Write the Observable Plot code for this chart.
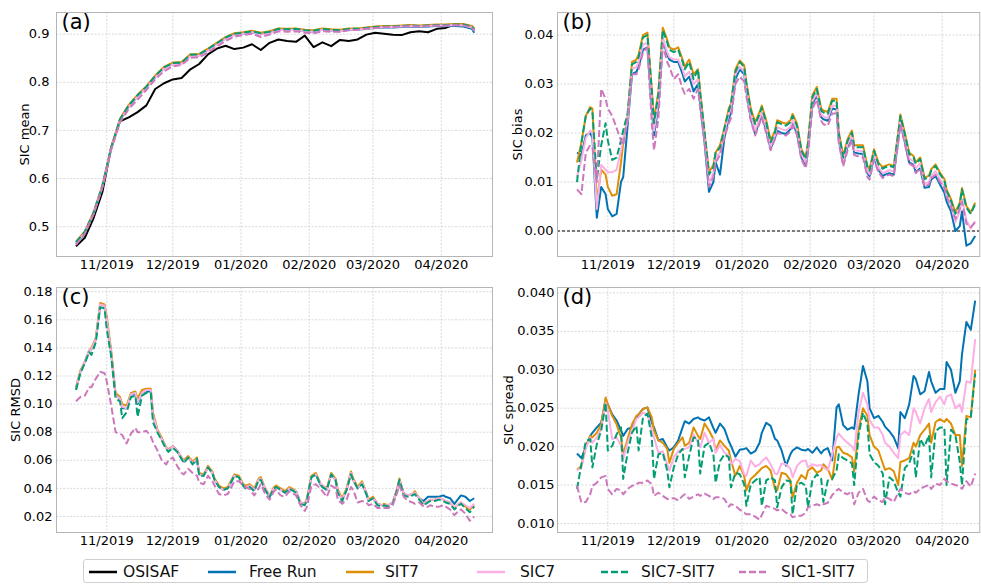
<!DOCTYPE html>
<html><head><meta charset="utf-8">
<script src="https://cdn.jsdelivr.net/npm/d3@7"></script>
<script src="https://cdn.jsdelivr.net/npm/@observablehq/plot@0.6"></script>
<style>
body{margin:0;background:#fff;font-family:"DejaVu Sans",sans-serif;}
#wrap{position:relative;width:981px;height:585px;overflow:hidden;background:#fff;}
#legend{position:absolute;left:83px;top:559px;width:785px;height:24px;border:1px solid #d0d0d0;border-radius:3px;box-sizing:border-box;}
.li{position:absolute;top:0;height:24px;display:flex;align-items:center;font-size:15.5px;color:#111;white-space:nowrap;}
</style></head>
<body><div id="wrap"><div id="legend"></div></div>
<script>
// ---- shared axis info ----
const startDate = "2019-10-18";           // day 0 of every series
const monthTicks = ["2019-11-01","2019-12-01","2020-01-01","2020-02-01","2020-03-01","2020-04-01"];
const monthLabels = ["11/2019","12/2019","01/2020","02/2020","03/2020","04/2020"];
const seriesNames = ["OSISAF","Free Run","SIT7","SIC7","SIC7-SIT7","SIC1-SIT7"];

// ---- panel (a): SIC mean, days since start ----
const tA = [0,4,8,12,16,20,24,28,32,36,40,44,48,52,56,60,64,68,72,76,80,84,88,92,96,100,104,108,112,116,120,124,128,132,136,140,144,148,152,156,160,164,168,172,176,180,181];
const aOSISAF   = [.459,.477,.518,.572,.665,.719,.727,.738,.752,.786,.798,.806,.809,.827,.838,.858,.870,.876,.869,.872,.879,.867,.882,.889,.886,.884,.897,.873,.883,.875,.888,.886,.889,.899,.903,.901,.899,.898,.904,.906,.904,.911,.913,.920,.918,.916,.911];
const aFreeRun  = [.464,.486,.527,.583,.662,.721,.750,.771,.789,.811,.829,.838,.839,.855,.856,.867,.879,.891,.899,.901,.904,.900,.903,.909,.908,.909,.906,.905,.909,.907,.906,.909,.909,.911,.913,.914,.914,.915,.916,.915,.916,.917,.917,.917,.916,.911,.903];
const aSIT7     = [.469,.490,.530,.586,.665,.724,.753,.774,.792,.814,.832,.841,.842,.858,.859,.870,.882,.894,.902,.904,.907,.903,.906,.912,.911,.912,.909,.908,.912,.910,.909,.912,.912,.914,.916,.917,.917,.918,.919,.918,.919,.920,.920,.921,.921,.917,.910];
const aSIC7     = [.465,.487,.527,.583,.662,.720,.749,.770,.788,.810,.828,.837,.838,.854,.855,.866,.878,.890,.898,.901,.904,.899,.902,.909,.908,.909,.906,.905,.909,.907,.906,.909,.909,.911,.913,.915,.915,.916,.917,.916,.917,.918,.918,.919,.918,.914,.907];
const aSIC7SIT7 = [.468,.489,.529,.585,.664,.723,.752,.773,.791,.813,.831,.840,.841,.857,.858,.869,.881,.893,.901,.903,.906,.902,.905,.911,.910,.911,.908,.907,.911,.909,.908,.911,.911,.913,.915,.916,.916,.917,.918,.917,.918,.919,.919,.920,.920,.916,.909];
const aSIC1SIT7 = [.462,.485,.526,.582,.660,.717,.745,.764,.784,.806,.823,.833,.836,.851,.852,.862,.874,.886,.895,.898,.901,.894,.899,.906,.905,.906,.903,.902,.906,.905,.905,.908,.909,.911,.913,.915,.915,.916,.917,.916,.917,.918,.918,.919,.918,.914,.907];

// ---- panels (b)-(d): days since start ----
const tW = [0,2,4,6,7,9,11,13,14,16,18,20,21,23,25,27,28,30,32,34,35,37,39,41,42,44,46,48,49,51,53,55,56,58,60,62,63,65,67,69,70,72,74,76,77,79,81,83,84,86,88,90,91,93,95,97,98,100,102,104,105,107,109,111,112,114,116,118,119,121,123,125,126,128,130,132,133,135,137,139,140,142,144,146,147,149,151,153,154,156,158,160,161,163,165,167,168,170,172,174,175,177,179,181];

// (b) SIC bias
const bFreeRun  = [.0160,.0155,.0195,.0200, .0190,.0027,.0090,.0075, .0045,.0030,.0035,.0100, .0110,.0215,.0320,.0325, .0335,.0370,.0375,.0250, .0195,.0255,.0390,.0360, .0350,.0345,.0345,.0320, .0305,.0315,.0285,.0300, .0260,.0180,.0080,.0100, .0140,.0115,.0190,.0230, .0240,.0310,.0330,.0320, .0285,.0230,.0198,.0225, .0235,.0205,.0168,.0190, .0205,.0200,.0198,.0208, .0220,.0200,.0150,.0135, .0165,.0258,.0278,.0232, .0228,.0225,.0250,.0248, .0185,.0138,.0172,.0190, .0160,.0158,.0157,.0118, .0112,.0150,.0125,.0112, .0115,.0118,.0115,.0185, .0222,.0182,.0140,.0135, .0120,.0128,.0088,.0090, .0105,.0112,.0095,.0078, .0060,.0040,.0000,.0010, .0040,-.0030,-.0025,-.0010];
const bSIT7     = [.0140,.0180,.0235,.0253, .0250,.0060,.0125,.0115, .0090,.0072,.0075,.0140, .0180,.0235,.0345,.0350, .0360,.0400,.0405,.0290, .0225,.0285,.0415,.0390, .0375,.0370,.0375,.0350, .0335,.0350,.0320,.0330, .0285,.0200,.0120,.0135, .0160,.0175,.0210,.0250, .0260,.0330,.0348,.0338, .0303,.0250,.0222,.0243, .0256,.0226,.0185,.0205, .0226,.0222,.0219,.0226, .0239,.0219,.0167,.0150, .0182,.0277,.0294,.0250, .0246,.0243,.0270,.0270, .0202,.0153,.0188,.0205, .0175,.0175,.0175,.0133, .0126,.0167,.0140,.0130, .0133,.0136,.0133,.0201, .0238,.0201,.0160,.0153, .0140,.0150,.0109,.0113, .0126,.0136,.0119,.0106, .0085,.0065,.0038,.0058, .0088,.0051,.0038,.0058];
const bSIC7     = [.0110,.0145,.0190,.0205, .0200,.0045,.0135,.0125, .0120,.0120,.0125,.0165, .0190,.0225,.0330,.0335, .0345,.0380,.0385,.0265, .0205,.0265,.0395,.0365, .0355,.0350,.0350,.0330, .0315,.0325,.0300,.0310, .0270,.0190,.0095,.0120, .0150,.0160,.0200,.0240, .0250,.0320,.0335,.0325, .0290,.0235,.0205,.0230, .0242,.0212,.0172,.0195, .0212,.0208,.0205,.0213, .0226,.0206,.0156,.0140, .0170,.0264,.0282,.0238, .0234,.0230,.0256,.0255, .0190,.0143,.0177,.0195, .0165,.0164,.0163,.0123, .0116,.0156,.0130,.0118, .0120,.0124,.0122,.0190, .0228,.0188,.0148,.0142, .0128,.0138,.0096,.0100, .0113,.0122,.0105,.0090, .0072,.0052,.0018,.0040, .0065,.0022,.0005,.0020];
const bSIC7SIT7 = [.0100,.0180,.0235,.0250, .0245,.0105,.0175,.0220, .0185,.0145,.0150,.0185, .0205,.0240,.0340,.0345, .0355,.0395,.0400,.0285, .0220,.0280,.0410,.0385, .0370,.0365,.0370,.0345, .0330,.0345,.0310,.0330, .0280,.0200,.0115,.0130, .0160,.0170,.0210,.0245, .0260,.0325,.0345,.0335, .0300,.0246,.0218,.0239, .0252,.0222,.0181,.0201, .0222,.0218,.0215,.0222, .0235,.0215,.0164,.0147, .0178,.0273,.0290,.0246, .0242,.0239,.0266,.0266, .0198,.0150,.0184,.0201, .0171,.0171,.0171,.0130, .0123,.0164,.0137,.0127, .0130,.0133,.0130,.0198, .0235,.0198,.0157,.0150, .0137,.0147,.0106,.0110, .0123,.0133,.0116,.0103, .0082,.0062,.0035,.0055, .0085,.0048,.0035,.0055];
const bSIC1SIT7 = [.0085,.0075,.0160,.0175, .0170,.0100,.0290,.0270, .0250,.0235,.0210,.0185, .0175,.0230,.0320,.0320, .0330,.0365,.0375,.0220, .0165,.0230,.0380,.0345, .0335,.0310,.0320,.0290, .0280,.0290,.0270,.0290, .0250,.0180,.0090,.0110, .0140,.0155,.0190,.0220, .0230,.0300,.0315,.0305, .0275,.0225,.0195,.0220, .0232,.0200,.0165,.0188, .0200,.0198,.0195,.0203, .0215,.0196,.0146,.0128, .0160,.0250,.0268,.0225, .0218,.0215,.0240,.0240, .0180,.0132,.0165,.0185, .0155,.0152,.0150,.0110, .0105,.0145,.0120,.0108, .0112,.0115,.0112,.0180, .0218,.0178,.0138,.0132, .0118,.0128,.0090,.0095, .0108,.0115,.0100,.0088, .0070,.0050,.0025,.0045, .0060,.0015,.0008,.0018];

// (c) SIC RMSD
const cFreeRun  = [.111,.123,.130,.138, .139,.146,.171,.170, .160,.136,.106,.104, .097,.097,.107,.107, .100,.108,.109,.109, .092,.081,.075,.069, .067,.070,.067,.061, .059,.062,.058,.060, .050,.049,.055,.051, .046,.041,.039,.040, .043,.049,.048,.042, .041,.042,.039,.046, .047,.039,.034,.040, .041,.039,.037,.040, .039,.038,.030,.029, .032,.048,.050,.043, .041,.039,.050,.046, .038,.032,.039,.051, .046,.040,.044,.036, .031,.033,.029,.028, .028,.028,.030,.039, .046,.036,.035,.036, .037,.033,.031,.034, .034,.034,.034,.035, .034,.033,.029,.033, .035,.034,.031,.033];
const cSIT7     = [.112,.124,.130,.138, .140,.147,.172,.171, .162,.138,.108,.105, .100,.099,.108,.109, .104,.110,.111,.111, .094,.082,.076,.069, .068,.070,.067,.062, .060,.063,.059,.062, .051,.050,.056,.052, .047,.042,.040,.041, .044,.050,.049,.043, .042,.043,.040,.047, .048,.040,.035,.041, .042,.040,.038,.041, .040,.038,.030,.029, .033,.049,.051,.044, .042,.040,.051,.047, .039,.033,.040,.052, .047,.041,.045,.037, .032,.034,.029,.028, .029,.028,.030,.040, .047,.036,.035,.036, .038,.033,.029,.031, .032,.032,.033,.032, .031,.030,.026,.029, .030,.027,.025,.028];
const cSIC7     = [.111,.123,.130,.138, .139,.146,.171,.170, .160,.136,.106,.104, .098,.097,.107,.108, .101,.108,.110,.110, .092,.081,.075,.069, .067,.070,.067,.062, .059,.062,.058,.061, .050,.049,.055,.051, .046,.041,.039,.040, .043,.049,.048,.042, .041,.042,.039,.046, .047,.040,.035,.040, .041,.039,.037,.040, .039,.038,.030,.029, .032,.048,.050,.044, .042,.039,.050,.046, .038,.032,.039,.051, .046,.040,.044,.037, .031,.033,.029,.028, .028,.028,.030,.039, .046,.036,.035,.036, .037,.033,.029,.031, .032,.032,.033,.032, .031,.030,.026,.029, .030,.028,.026,.029];
const cSIC7SIT7 = [.110,.122,.129,.137, .135,.144,.169,.168, .153,.134,.104,.102, .090,.094,.105,.106, .091,.106,.108,.108, .087,.080,.074,.068, .066,.069,.066,.061, .058,.062,.057,.061, .049,.049,.055,.051, .046,.041,.039,.040, .043,.049,.048,.042, .040,.041,.038,.046, .046,.039,.034,.040, .041,.039,.037,.040, .039,.037,.029,.028, .032,.048,.050,.043, .041,.039,.050,.046, .037,.031,.039,.050, .046,.040,.043,.036, .031,.033,.028,.027, .028,.027,.029,.039, .046,.035,.034,.035, .036,.032,.028,.030, .031,.031,.032,.031, .030,.029,.025,.028, .029,.026,.023,.027];
const cSIC1SIT7 = [.102,.105,.106,.112, .112,.118,.123,.122, .116,.099,.080,.079, .078,.072,.079,.083, .080,.080,.081,.077, .073,.067,.060,.057, .060,.062,.056,.051, .050,.054,.051,.049, .044,.043,.049,.045, .042,.036,.035,.036, .039,.045,.045,.042, .041,.0395,.035,.040, .043,.036,.032,.038, .039,.035,.034,.038, .037,.035,.028,.024, .027,.042,.043,.040, .038,.034,.042,.040, .032,.029,.032,.041, .039,.030,.031,.030, .028,.029,.026,.026, .026,.026,.028,.037, .042,.034,.031,.030, .029,.030,.027,.027, .028,.027,.027,.028, .027,.025,.021,.024, .025,.022,.017,.020];

// (d) SIC spread
const dFreeRun  = [.0191,.0185,.0199,.0214, .0218,.0225,.0231,.0260, .0255,.0242,.0234,.0221, .0214,.0223,.0225,.0238, .0242,.0249,.0251,.0231, .0225,.0208,.0210,.0199, .0195,.0199,.0208,.0225, .0233,.0230,.0236,.0238, .0236,.0234,.0238,.0224, .0218,.0230,.0223,.0207, .0201,.0187,.0196,.0197, .0198,.0191,.0194,.0205, .0218,.0231,.0227,.0210, .0208,.0195,.0175,.0190, .0195,.0199,.0196,.0195, .0197,.0192,.0199,.0191, .0195,.0198,.0182,.0251, .0255,.0228,.0222,.0225, .0223,.0268,.0305,.0285, .0250,.0237,.0240,.0232, .0226,.0220,.0212,.0198, .0245,.0237,.0255,.0292, .0288,.0268,.0272,.0297, .0285,.0270,.0275,.0275, .0310,.0300,.0270,.0285, .0320,.0362,.0352,.0390];
const dSIT7     = [.0170,.0175,.0201,.0214, .0212,.0218,.0229,.0264, .0255,.0240,.0229,.0212, .0190,.0210,.0229,.0240, .0242,.0249,.0251,.0238, .0221,.0208,.0205,.0197, .0179,.0197,.0205,.0212, .0201,.0205,.0225,.0214, .0210,.0230,.0221,.0210, .0195,.0208,.0201,.0195, .0182,.0162,.0175,.0162, .0143,.0158,.0163,.0169, .0172,.0175,.0169,.0145, .0143,.0166,.0164,.0156, .0134,.0153,.0163,.0158, .0169,.0173,.0166,.0169, .0177,.0171,.0157,.0199, .0200,.0192,.0190,.0186, .0168,.0222,.0250,.0240, .0215,.0200,.0195,.0178, .0170,.0172,.0168,.0150, .0180,.0182,.0185,.0205, .0200,.0215,.0222,.0230, .0205,.0232,.0236,.0232, .0236,.0230,.0215,.0215, .0175,.0240,.0238,.0300];
const dSIC7     = [.0169,.0173,.0198,.0212, .0205,.0212,.0223,.0257, .0247,.0210,.0212,.0201, .0184,.0205,.0221,.0236, .0238,.0244,.0242,.0221, .0212,.0192,.0194,.0177, .0169,.0186,.0194,.0197, .0197,.0199,.0216,.0205, .0199,.0218,.0205,.0210, .0192,.0202,.0192,.0188, .0177,.0184,.0181,.0164, .0162,.0182,.0174,.0177, .0181,.0186,.0177,.0165, .0164,.0178,.0177,.0171, .0160,.0175,.0181,.0182, .0173,.0177,.0175,.0176, .0173,.0169,.0190,.0212, .0217,.0210,.0205,.0200, .0195,.0245,.0270,.0255, .0235,.0225,.0225,.0215, .0205,.0200,.0192,.0185, .0215,.0220,.0215,.0250, .0245,.0230,.0250,.0262, .0245,.0258,.0265,.0255, .0265,.0268,.0250,.0255, .0245,.0285,.0283,.0340];
const dSIC7SIT7 = [.0145,.0177,.0207,.0210, .0173,.0203,.0221,.0257, .0195,.0201,.0216,.0225, .0158,.0192,.0218,.0227, .0195,.0238,.0243,.0212, .0158,.0190,.0192,.0169, .0147,.0173,.0190,.0197, .0160,.0188,.0212,.0210, .0165,.0201,.0205,.0190, .0153,.0181,.0190,.0186, .0147,.0166,.0164,.0151, .0123,.0151,.0156,.0160, .0123,.0156,.0160,.0156, .0121,.0147,.0156,.0155, .0112,.0151,.0153,.0149, .0121,.0156,.0164,.0158, .0128,.0156,.0158,.0169, .0190,.0185,.0182,.0178, .0150,.0215,.0244,.0230, .0190,.0180,.0175,.0165, .0125,.0160,.0155,.0140, .0135,.0172,.0178,.0195, .0160,.0210,.0200,.0215, .0160,.0220,.0225,.0225, .0150,.0222,.0215,.0180, .0150,.0235,.0238,.0295];
const dSIC1SIT7 = [.0149,.0127,.0128,.0138, .0149,.0153,.0160,.0162, .0145,.0138,.0145,.0143, .0138,.0145,.0149,.0151, .0153,.0153,.0156,.0151, .0136,.0140,.0136,.0132, .0132,.0133,.0130,.0136, .0138,.0132,.0135,.0138, .0136,.0139,.0136,.0132, .0134,.0134,.0132,.0122, .0125,.0123,.0118,.0114, .0112,.0112,.0109,.0105, .0111,.0123,.0121,.0119, .0117,.0119,.0114,.0112, .0108,.0110,.0110,.0114, .0121,.0123,.0125,.0123, .0125,.0127,.0137,.0143, .0145,.0140,.0138,.0142, .0125,.0140,.0145,.0130, .0128,.0135,.0130,.0128, .0135,.0132,.0128,.0140, .0145,.0140,.0138,.0142, .0140,.0145,.0148,.0150, .0145,.0152,.0150,.0158, .0155,.0152,.0150,.0148, .0145,.0155,.0148,.0165];

// ---- styles ----
const colors = {"OSISAF":"#000000","Free Run":"#0173B2","SIT7":"#DE8F05","SIC7":"#FBAFE4","SIC7-SIT7":"#029E73","SIC1-SIT7":"#CC78BC"};
const dashes = {"SIC7-SIT7":"7,3","SIC1-SIT7":"7,3"};

const base = new Date(startDate + "T00:00:00Z").getTime();
const day = t => new Date(base + t * 864e5);
const ticksX = monthTicks.map(s => new Date(s + "T00:00:00Z"));

function lines(days, list) {
  return list.map(([name, vals]) => Plot.line(days.map((t, i) => ({x: day(t), y: vals[i]})), {
    x: "x", y: "y", stroke: colors[name], strokeWidth: 2,
    strokeDasharray: dashes[name] || null, strokeLinejoin: "round", strokeLinecap: "butt"
  }));
}

function panel(o) {
  const mL = 56, mR = 3, mT = 12, mB = 24;
  const width = o.frameR - o.frameL + mL + mR;
  const height = o.frameB - o.frameT + mT + mB;
  const tL = (o.frameL - o.x0) / 2.2, tR = (o.frameR - o.x0) / 2.2;
  const svg = Plot.plot({
    width, height, marginLeft: mL, marginRight: mR, marginTop: mT, marginBottom: mB,
    style: {fontFamily: "'DejaVu Sans', sans-serif", fontSize: "13px", color: "#000", background: "transparent", overflow: "visible"},
    x: {type: "utc", domain: [day(tL), day(tR)]},
    y: {domain: o.yDomain},
    marks: [
      Plot.gridX(ticksX, {stroke: "#cfcfcf", strokeOpacity: 1, strokeWidth: 0.8, strokeDasharray: "2,1.5"}),
      Plot.gridY(o.yTicks, {stroke: "#cfcfcf", strokeOpacity: 1, strokeWidth: 0.8, strokeDasharray: "2,1.5"}),
      ...(o.extra || []),
      ...lines(o.days, o.series),
      Plot.frame({stroke: "#b5b5b5", strokeWidth: 1}),
      Plot.axisX(ticksX, {tickSize: 0, tickPadding: 3, tickFormat: (d, i) => monthLabels[i], label: null, fontSize: 13}),
      Plot.axisY(o.yTicks, {tickSize: 0, tickPadding: o.tickPad, tickFormat: d3.format(o.yFmt), label: null, fontSize: 13}),
      Plot.text([o.yLabel], {frameAnchor: "left", dx: o.yLabelDx, rotate: -90, fontSize: 13, textAnchor: "middle", lineAnchor: "middle"}),
      Plot.text([o.letter], {frameAnchor: "top-left", dx: 5, dy: 2, fontSize: 21, textAnchor: "start", lineAnchor: "top"})
    ]
  });
  svg.style.position = "absolute";
  svg.style.left = (o.frameL - mL) + "px";
  svg.style.top = (o.frameT - mT) + "px";
  document.getElementById("wrap").appendChild(svg);
}

panel({frameL: 56, frameR: 492, frameT: 12, frameB: 256, x0: 75.5,
  yDomain: [0.438, 0.945], yTicks: [0.5, 0.6, 0.7, 0.8, 0.9], yFmt: ".1f", tickPad: 7,
  yLabel: "SIC mean", yLabelDx: -32, letter: "(a)", days: tA,
  series: [["OSISAF", aOSISAF], ["Free Run", aFreeRun], ["SIT7", aSIT7], ["SIC7", aSIC7], ["SIC7-SIT7", aSIC7SIT7], ["SIC1-SIT7", aSIC1SIT7]]});

panel({frameL: 556.7, frameR: 979, frameT: 12, frameB: 256, x0: 576.2,
  yDomain: [-0.0052, 0.0446], yTicks: [0, 0.01, 0.02, 0.03, 0.04], yFmt: ".2f", tickPad: 4,
  yLabel: "SIC bias", yLabelDx: -40, letter: "(b)", days: tW,
  extra: [Plot.ruleY([0], {stroke: "#000", strokeWidth: 1, strokeDasharray: "3,2"})],
  series: [["Free Run", bFreeRun], ["SIT7", bSIT7], ["SIC7", bSIC7], ["SIC7-SIT7", bSIC7SIT7], ["SIC1-SIT7", bSIC1SIT7]]});

panel({frameL: 56, frameR: 492, frameT: 286.7, frameB: 531.7, x0: 75.5,
  yDomain: [0.0086, 0.183], yTicks: [0.02, 0.04, 0.06, 0.08, 0.10, 0.12, 0.14, 0.16, 0.18], yFmt: ".2f", tickPad: 4,
  yLabel: "SIC RMSD", yLabelDx: -41, letter: "(c)", days: tW,
  series: [["Free Run", cFreeRun], ["SIT7", cSIT7], ["SIC7", cSIC7], ["SIC7-SIT7", cSIC7SIT7], ["SIC1-SIT7", cSIC1SIT7]]});

panel({frameL: 556.7, frameR: 979, frameT: 286.7, frameB: 531.7, x0: 576.2,
  yDomain: [0.00883, 0.0407], yTicks: [0.010, 0.015, 0.020, 0.025, 0.030, 0.035, 0.040], yFmt: ".3f", tickPad: 3,
  yLabel: "SIC spread", yLabelDx: -49, letter: "(d)", days: tW,
  series: [["Free Run", dFreeRun], ["SIT7", dSIT7], ["SIC7", dSIC7], ["SIC7-SIT7", dSIC7SIT7], ["SIC1-SIT7", dSIC1SIT7]]});

// ---- legend ----
const legendPos = [[5, 39], [124, 165], [262, 301], [393, 436], [517, 557], [655, 697]];
const leg = document.getElementById("legend");
seriesNames.forEach((name, i) => {
  const [hx, tx] = legendPos[i];
  const d = document.createElement("div");
  d.className = "li";
  d.style.left = hx + "px";
  const dash = dashes[name] ? `stroke-dasharray="7,3"` : "";
  d.innerHTML = `<svg width="${tx - hx}" height="24"><line x1="0" x2="28" y1="12" y2="12" stroke="${colors[name]}" stroke-width="2.5" ${dash}/></svg><span>${name}</span>`;
  leg.appendChild(d);
});
</script></body></html>
